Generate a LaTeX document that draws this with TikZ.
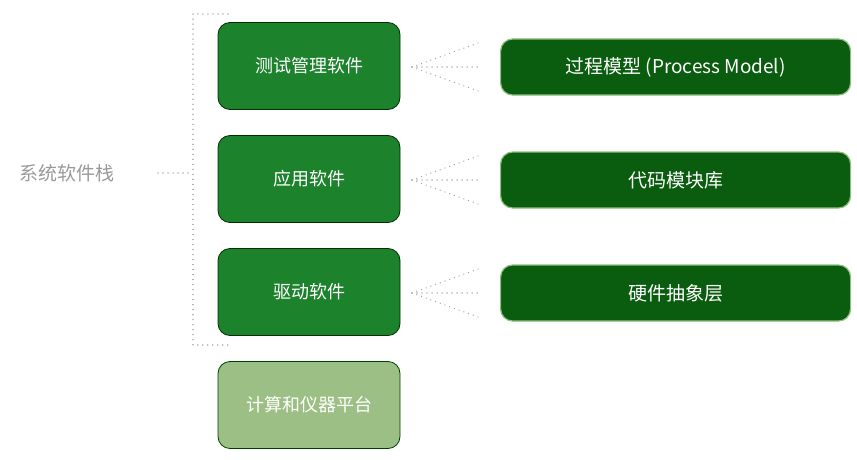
\documentclass[tikz,border=0pt]{standalone}
\usepackage{fontspec}
\setmainfont{Liberation Sans}
\newfontfamily\cjk{Noto Sans CJK SC}
\begin{document}
\begin{tikzpicture}[x=1pt,y=-1pt,
 lbox/.style={draw=black!70!green!60!black,line width=0.8pt,fill=lgreen,rounded corners=12pt,minimum width=182pt,minimum height=87pt,text=white,font=\cjk\fontsize{18}{20}\selectfont},
 rbox/.style={draw=rborder,line width=1.2pt,fill=rgreen,rounded corners=12pt,minimum width=350pt,minimum height=56pt,text=white,font=\cjk\itshape\fontsize{19}{21}\selectfont,anchor=west},
 dots/.style={draw=gray!70,line width=1.4pt,dash pattern=on 0.01pt off 5pt,line cap=round}]
\definecolor{lgreen}{HTML}{1C822C}
\definecolor{pgreen}{HTML}{9BBF85}
\definecolor{rgreen}{HTML}{0A5C0E}
\definecolor{rborder}{HTML}{8FBF7F}
\useasboundingbox (0,0) rectangle (857,460);
\node[text=gray!80,font=\cjk\fontsize{19}{21}\selectfont] (sys) at (67,173) {系统软件栈};
\coordinate (s1) at (158,173); \coordinate (s2) at (190,173);
\draw[dots] (s1) -- (s2);
\coordinate (t1) at (228,14); \coordinate (t2) at (193,14);
\coordinate (b1) at (193,345); \coordinate (b2) at (228,345);
\draw[dots] (t1) -- (t2) -- (b1) -- (b2);
\node[lbox] (a) at (309,66) {测试管理软件};
\node[lbox] (b) at (309,179) {应用软件};
\node[lbox] (c) at (309,292) {驱动软件};
\node[lbox,fill=pgreen,draw=black!50!green!50!black] (d) at (309,405) {计算和仪器平台};
\node[rbox] (ra) at (500,67) {过程模型 (Process Model)};
\node[rbox] (rb) at (500,180) {代码模块库};
\node[rbox] (rc) at (500,293) {硬件抽象层};
\foreach \n/\y in {a/67,b/180,c/293}{
 \coordinate (f\n) at (412,\y);
 \coordinate (u\n) at (478,\y-24);
 \coordinate (m\n) at (482,\y);
 \coordinate (l\n) at (478,\y+24);
 \draw[dots] (f\n) -- (u\n); \draw[dots] (f\n) -- (m\n); \draw[dots] (f\n) -- (l\n);
}
\end{tikzpicture}
\end{document}
